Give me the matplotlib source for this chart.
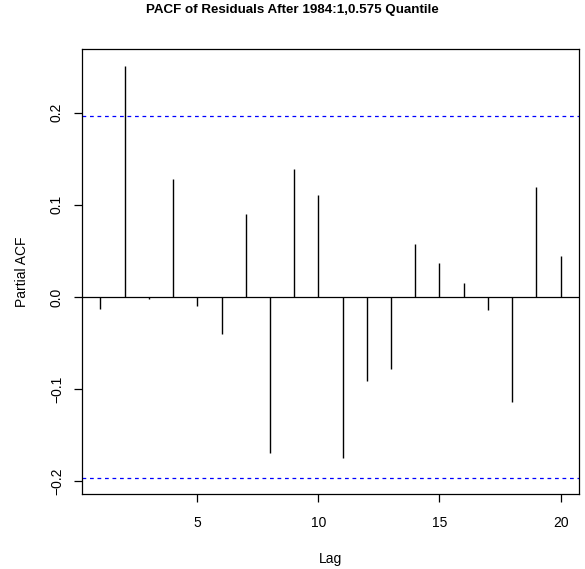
import numpy as np
import matplotlib
matplotlib.use("Agg")
import matplotlib.pyplot as plt

plt.rcParams['font.family'] = ['Liberation Sans', 'DejaVu Sans']

# partial autocorrelations
lags = list(range(1, 21))
pacf_vals = [-0.013, 0.251, -0.0025, 0.128, -0.0094, -0.040, 0.090, -0.169,
             0.1385, 0.111, -0.1746, -0.0913, -0.0783, 0.058, 0.0374, 0.0157,
             -0.0137, -0.114, 0.1196, 0.0446]
n_obs = 100
clim = 1.96 / np.sqrt(n_obs)

title = "PACF of Residuals After 1984:1,0.575 Quantile"
yticks = [-0.2, -0.1, 0.0, 0.1, 0.2]
xticks = [5, 10, 15, 20]

fig = plt.figure(figsize=(5.85, 5.69), dpi=100)
ax = fig.add_axes([0.1402, 0.1318, 0.9897 - 0.1402, 0.9134 - 0.1318])

ax.vlines(lags, 0, pacf_vals, color='black', linewidth=1.0)
ax.axhline(0, color='black', linewidth=0.9)
ax.axhline(clim, color='blue', linestyle=(0, (3, 3)), linewidth=0.9)
ax.axhline(-clim, color='blue', linestyle=(0, (3, 3)), linewidth=0.9)

# R-style 4% padding
xr = max(lags) - min(lags)
ax.set_xlim(min(lags) - 0.04 * xr, max(lags) + 0.04 * xr)
lo = min(-clim, min(pacf_vals))
hi = max(clim, max(pacf_vals))
yr = hi - lo
ax.set_ylim(lo - 0.04 * yr, hi + 0.04 * yr)

ax.set_xticks(xticks)
ax.set_yticks(yticks)
ax.set_yticklabels([f"{v:.1f}".replace('-', '\u2212') for v in yticks],
                   rotation=90, va='center')
ax.tick_params(direction='out', length=6, width=0.9, labelsize=10, pad=7)
ax.tick_params(axis='x', pad=10)
for s in ax.spines.values():
    s.set_linewidth(0.9)

ax.set_xlabel("Lag", fontsize=10, labelpad=16)
ax.set_ylabel("Partial ACF", fontsize=10, labelpad=15)
fig.text(0.5, 1 - 10 / 569, title, ha='center', va='center',
         fontsize=9.6, fontweight='bold')

fig.savefig("out.png", dpi=100)
